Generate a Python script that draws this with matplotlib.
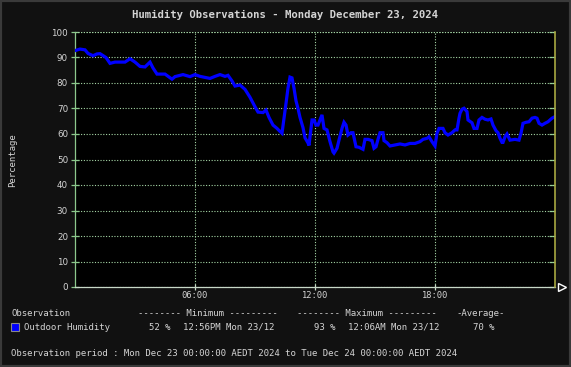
import matplotlib
matplotlib.use("Agg")
from matplotlib import pyplot as plt
from matplotlib.patches import Rectangle

# minutes after midnight, outdoor humidity (%)
minutes = [0, 15, 30, 39, 54, 66, 75, 93, 105, 120, 150, 165, 180, 195, 210,
           225, 234, 246, 270, 291, 300, 324, 345, 360, 375, 405, 420, 435,
           450, 459, 471, 480, 495, 510, 525, 540, 549, 564, 573, 582, 594,
           606, 615, 621, 627, 633, 639, 645, 651, 657, 663, 669, 675, 684,
           690, 699, 702, 708, 711, 717, 723, 729, 741, 747, 756, 765, 774,
           777, 786, 792, 801, 807, 813, 819, 828, 834, 843, 852, 864, 870,
           879, 891, 897, 903, 909, 915, 924, 927, 936, 945, 960, 975, 990,
           1005, 1020, 1035, 1044, 1056, 1062, 1071, 1080, 1086, 1092, 1104,
           1110, 1119, 1131, 1140, 1146, 1152, 1155, 1161, 1167, 1176, 1179,
           1191, 1197, 1206, 1212, 1221, 1230, 1239, 1248, 1254, 1263, 1269,
           1275, 1281, 1284, 1290, 1296, 1305, 1320, 1332, 1338, 1344, 1353,
           1362, 1371, 1380, 1386, 1392, 1401, 1410, 1419, 1431, 1440]
humidity = [92.7, 93.3, 93, 91.6, 90.7, 91.4, 91.5, 90, 87.7, 88.2, 88.2, 89.5,
            88.2, 86.5, 86.3, 88.2, 85.9, 83.5, 83.5, 81.5, 82.5, 83.3, 82.5,
            83.3, 82.6, 81.8, 82.6, 83.3, 82.6, 83, 80.8, 78.8, 79.2, 77.5,
            74.4, 70.7, 68.6, 68.4, 69.4, 66.5, 63.5, 62.2, 61, 60.3, 66, 72,
            78, 82.3, 82, 78, 73, 70, 66.5, 62.5, 58.5, 56.5, 55.5, 62.4, 65.5,
            65.5, 63.5, 63.5, 67.5, 62.2, 61.6, 57, 53, 52.5, 54.4, 57.6, 62.2,
            64.6, 63.5, 59.6, 60.5, 60.5, 55, 54.8, 54, 57.9, 57.9, 57.4, 54.4,
            55, 57.9, 60.5, 60.5, 57.4, 56.6, 55.3, 55.7, 56.1, 55.7, 56.3,
            56.3, 57, 57.9, 58.3, 58.9, 57, 55.3, 60.3, 62.2, 62.2, 60.5, 59.6,
            60.5, 61.6, 61.6, 66.2, 68.1, 69.7, 70.1, 68.8, 65.5, 64.4, 62.2,
            62.2, 65.5, 66.5, 65.8, 65.5, 65.9, 63.5, 61.3, 60.5, 58.3, 56.7,
            56.7, 58.9, 60, 57.6, 57.9, 57.6, 60.3, 64.2, 64.6, 64.8, 66.2,
            66.5, 66.2, 64.2, 63.5, 64.2, 64.8, 66.2, 66.8]

y_ticks = [0, 10, 20, 30, 40, 50, 60, 70, 80, 90, 100]
x_ticks = [360, 720, 1080]
x_labels = ["06:00", "12:00", "18:00"]

title = "Humidity Observations - Monday December 23, 2024"
series_name = "Outdoor Humidity"
min_text = "52 %"
min_when = "12:56PM Mon 23/12"
max_text = "93 %"
max_when = "12:06AM Mon 23/12"
avg_text = "70 %"
period = "Observation period : Mon Dec 23 00:00:00 AEDT 2024 to Tue Dec 24 00:00:00 AEDT 2024"

bg = "#111111"
grid_col = "#a6d6a6"
txt_col = "#d4d4d4"
mono = "DejaVu Sans Mono"

W, H = 571, 367
fig = plt.figure(figsize=(W / 100, H / 100), dpi=100, facecolor=bg)
fig.patches.append(Rectangle((0, 0), 1, 1, transform=fig.transFigure,
                             facecolor="none", edgecolor="#3a3a3a",
                             linewidth=3))

ax = fig.add_axes([75 / W, (H - 287) / H, 480 / W, 255 / H])
ax.set_facecolor("black")
ax.plot(minutes, humidity, color="#0000ff", linewidth=2.3,
        solid_joinstyle="miter", zorder=3)

ax.set_xlim(0, 1440)
ax.set_ylim(0, 100)
ax.set_yticks(y_ticks)
ax.set_xticks(x_ticks)
ax.set_xticklabels(x_labels)

ax.grid(True, color=grid_col, linestyle=(0, (1, 1.5)), linewidth=0.8)
ax.axhline(100, color=grid_col, linestyle=(0, (1, 1.5)), linewidth=0.8)

for s in ax.spines.values():
    s.set_linewidth(0.9)
ax.spines["top"].set_visible(False)
ax.spines["left"].set_color("#8cc88c")
ax.spines["bottom"].set_color("#c8d8c8")
ax.spines["right"].set_color("#a8a840")
ax.spines["right"].set_linewidth(1.2)
ax.spines["right"].set_zorder(4)

ax.tick_params(axis="y", direction="inout", length=6, width=0.9,
               color="#8cc88c", labelcolor=txt_col, labelsize=6.3, pad=2)
ax.tick_params(axis="x", direction="inout", length=4, width=0.9,
               color="#c8d8c8", labelcolor=txt_col, labelsize=6.3, pad=1)
for lab in ax.get_xticklabels():
    lab.set_fontfamily(mono)

# short inside ticks on the right edge
sec = ax.secondary_yaxis("right")
sec.set_yticks(y_ticks)
sec.tick_params(direction="in", length=4, width=0.9, color="#8cc88c",
                labelright=False)
for s in sec.spines.values():
    s.set_visible(False)

# arrow head at the end of the time axis
ax.plot([1.015], [0], transform=ax.transAxes, marker=">", markersize=5.5,
        markerfacecolor="none", markeredgecolor="white", markeredgewidth=1,
        clip_on=False)

fig.text(0.5, 1 - 15 / H, title, ha="center", va="center", color=txt_col,
         fontsize=7.7, family=mono, fontweight="bold")
fig.text(13 / W, 1 - 160 / H, "Percentage", rotation=90, ha="center",
         va="center", color=txt_col, fontsize=6.5, family=mono)

fs = 6.5
def put(x, y, s):
    fig.text(x / W, 1 - y / H, s, ha="left", va="center", color=txt_col,
             fontsize=fs, family=mono)

put(11, 314, "Observation")
put(138, 314, "-------- Minimum ---------")
put(297, 314, "-------- Maximum ---------")
put(456, 314, "-Average-")

fig.patches.append(Rectangle((11 / W, 1 - 331 / H), 8 / W, 8 / H,
                             transform=fig.transFigure, facecolor="#0000ff",
                             edgecolor="#888888", linewidth=0.8))
put(24, 327, series_name)
put(149, 327, min_text)
put(183, 327, min_when)
put(314, 327, max_text)
put(348, 327, max_when)
put(473, 327, avg_text)
put(11, 353, period)

fig.savefig("out.png", dpi=100, facecolor=bg)
